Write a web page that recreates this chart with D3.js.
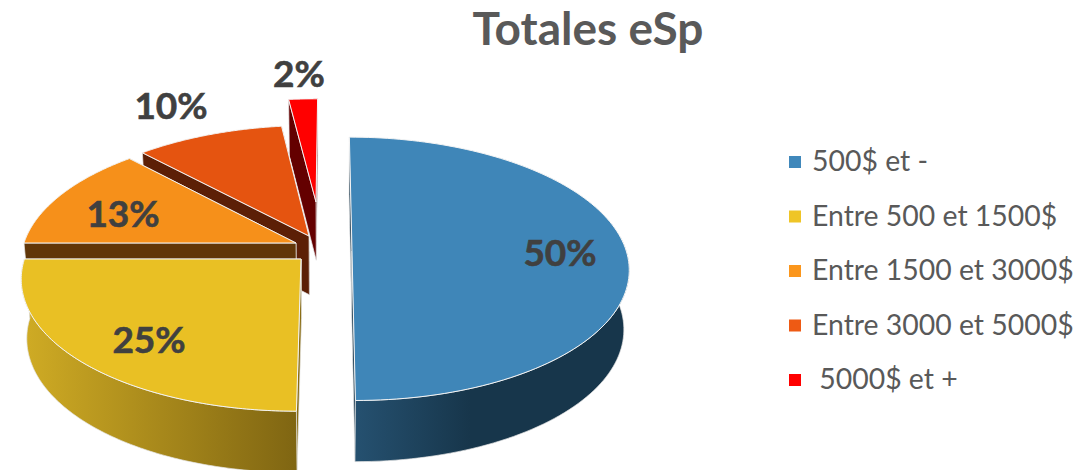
<!DOCTYPE html>
<html lang="fr">
<head>
<meta charset="utf-8">
<title>Totales eSp</title>
<script src="https://cdn.jsdelivr.net/npm/d3@7/dist/d3.min.js"></script>
<style>
  html, body { margin: 0; padding: 0; background: #fff; }
  svg { display: block; }
  text { font-family: Lato, "Open Sans", sans-serif; }
</style>
</head>
<body>
<svg id="chart" width="1079" height="470"></svg>
<script>
const categories = ["500$ et -", "Entre 500 et 1500$", "Entre 1500 et 3000$", "Entre 3000 et 5000$", "\u00a05000$ et +"];
const shares = [50, 25, 13, 10, 2];
const chartTitle = "Totales eSp";

const topColors = ["#3f86b8", "#e9c024", "#f6901a", "#e55410", "#ff0000"];
const legendColors = ["#4088bb", "#efc527", "#fb961c", "#ee5a14", "#ff0000"];
const cutColors = ["#17364b", "#8a6d14", "#613608", "#5c1f06", "#640000"];
// Only the two front wedges show a curved outer wall.
const rimGradients = [["#25506f", "#17364b"], ["#cfab24", "#7f6512"], null, null, null];

// Where each wedge's point lands on the page once pulled out of the pie.
const wedgeApex = [[352, 251], [301, 259], [296, 243], [309, 236], [316, 202]];
const labelPos = [[560, 266], [149, 353], [123, 227], [171, 119], [299, 87]];

const view = { cx: 330, cy: 250, rx: 274, ry: 129, tilt: 0.135, depth: 59, baseShrink: 0.982 };

// Perspective projection of the pie's plane, u to the right and v to the back.
function project(u, v) {
  const w = 1 + view.tilt * v;
  return [view.cx + view.rx * u / w, view.cy - view.ry * v / w, w];
}
function unproject(x, y) {
  const yn = (view.cy - y) / view.ry;
  const v = yn / (1 - view.tilt * yn);
  return [(x - view.cx) / view.rx * (1 + view.tilt * v), v];
}
// The lower face sits a little lower and narrower than the upper one.
function lower(p) {
  return [view.cx + (p[0] - view.cx) * view.baseShrink, p[1] + view.depth / Math.pow(p[2], 0.25), p[2]];
}

const svg = d3.select("#chart");
const defs = svg.append("defs");
const outline = d3.line().curve(d3.curveLinear);
const arcs = d3.pie().sort(null)(shares);

// Paint from the back of the pie to the front.
const paintOrder = [4, 3, 2, 1, 0];

paintOrder.forEach(i => {
  const a = arcs[i];
  const [ua, va] = unproject(wedgeApex[i][0], wedgeApex[i][1]);
  const rim = t => project(ua + Math.sin(t), va + Math.cos(t));
  const apex = project(ua, va);
  const steps = d3.range(0, 121).map(k => a.startAngle + (a.endAngle - a.startAngle) * k / 120);
  const g = svg.append("g").attr("class", "wedge");

  // Straight cut faces along both radii, farther radius first.
  [a.startAngle, a.endAngle].sort((s, t) => Math.cos(t) - Math.cos(s)).forEach(t => {
    const p = rim(t);
    g.append("path")
      .attr("d", outline([apex, p, lower(p), lower(apex)].map(q => q.slice(0, 2))) + "Z")
      .attr("fill", cutColors[i])
      .attr("stroke", "#e8e8e8").attr("stroke-width", 0.7);
  });

  // Curved outer wall, only where it faces the viewer.
  if (rimGradients[i]) {
    const upper = steps.filter(t => Math.cos(t) < 0.12).map(rim);
    const base = upper.map(lower);
    const gradId = "rim" + i;
    const grad = defs.append("linearGradient").attr("id", gradId)
      .attr("gradientUnits", "userSpaceOnUse")
      .attr("x1", i === 0 ? 358 : 25).attr("x2", i === 0 ? 470 : 298)
      .attr("y1", 0).attr("y2", 0);
    grad.append("stop").attr("offset", 0).attr("stop-color", rimGradients[i][0]);
    grad.append("stop").attr("offset", 1).attr("stop-color", rimGradients[i][1]);
    g.append("path")
      .attr("d", outline(upper.concat(base.reverse()).map(q => q.slice(0, 2))) + "Z")
      .attr("fill", `url(#${gradId})`)
      .attr("stroke", "#e4e4e4").attr("stroke-width", 0.7);
  }

  // Upper face.
  const face = [apex].concat(steps.map(rim));
  g.append("path")
    .attr("d", outline(face.map(q => q.slice(0, 2))) + "Z")
    .attr("fill", topColors[i])
    .attr("stroke", "#f4f4f4").attr("stroke-width", 1).attr("stroke-linejoin", "round");
});

// Value labels.
svg.append("g").selectAll("text").data(shares).join("text")
  .attr("x", (d, i) => labelPos[i][0])
  .attr("y", (d, i) => labelPos[i][1])
  .attr("text-anchor", "middle")
  .attr("font-size", 37).attr("font-weight", 700).attr("fill", "#404040")
  .attr("stroke", "#404040").attr("stroke-width", 0.6)
  .text(d => d + "%");

// Title.
svg.append("text").attr("x", 588).attr("y", 45)
  .attr("text-anchor", "middle")
  .attr("font-size", 46).attr("font-weight", 700).attr("fill", "#595959")
  .text(chartTitle);

// Legend.
const legendY = d3.scalePoint().domain(categories).range([162, 380]);
const legend = svg.append("g").selectAll("g").data(categories).join("g")
  .attr("transform", d => `translate(789,${legendY(d)})`);
legend.append("rect").attr("x", 0).attr("y", -6).attr("width", 12).attr("height", 12)
  .attr("fill", (d, i) => legendColors[i]);
legend.append("text").attr("x", 23).attr("y", 9)
  .attr("font-size", 28.4).attr("fill", "#595959")
  .style("white-space", "pre")
  .text(d => d);
</script>
</body>
</html>
